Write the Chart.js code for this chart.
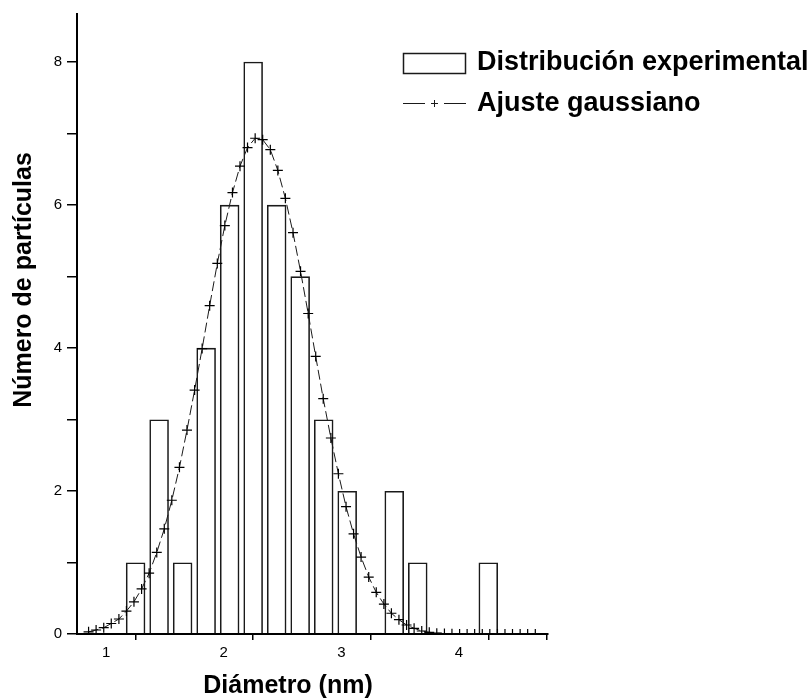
<!DOCTYPE html>
<html>
<head>
<meta charset="utf-8">
<script src="https://cdn.jsdelivr.net/npm/chart.js@4"></script>
<style>
  html, body { margin: 0; padding: 0; background: #fff; }
  canvas { display: block; }
</style>
</head>
<body>
<canvas id="histChart" width="812" height="698"></canvas>
<script>
// Histograma de diámetros (centros de clase, nm) y número de partículas
const diametros = [1.25, 1.45, 1.65, 1.85, 2.05, 2.25, 2.45, 2.65, 2.85, 3.05, 3.45, 3.65, 4.25];
const cuentas   = [1, 3, 1, 4, 6, 8, 6, 5, 3, 2, 2, 1, 1];

// Curva del ajuste gaussiano
const ajusteX = [0.850, 0.914, 0.979, 1.043, 1.108, 1.172, 1.236, 1.301, 1.365, 1.430,
                 1.494, 1.558, 1.623, 1.687, 1.752, 1.816, 1.880, 1.945, 2.009, 2.074,
                 2.138, 2.202, 2.267, 2.331, 2.396, 2.460, 2.524, 2.589, 2.653, 2.718,
                 2.782, 2.846, 2.911, 2.975, 3.040, 3.104, 3.168, 3.233, 3.297, 3.362,
                 3.426, 3.490, 3.555, 3.619, 3.684, 3.748, 3.812, 3.877, 3.941, 4.006,
                 4.070, 4.134, 4.199, 4.263, 4.328, 4.392, 4.456, 4.521, 4.585, 4.650];
const ajusteY = [0.03, 0.056, 0.088, 0.147, 0.21, 0.32, 0.45, 0.63, 0.85, 1.14,
                 1.47, 1.87, 2.33, 2.85, 3.41, 3.99, 4.59, 5.18, 5.71, 6.17,
                 6.54, 6.80, 6.93, 6.91, 6.77, 6.48, 6.09, 5.61, 5.07, 4.48,
                 3.88, 3.29, 2.74, 2.24, 1.78, 1.40, 1.075, 0.796, 0.582, 0.419,
                 0.29, 0.20, 0.126, 0.08, 0.042, 0.024, 0.012, 0.006, 0.003, 0.001,
                 0, 0, 0, 0, 0, 0, 0, 0, 0, 0];

const xTicks = [1, 1.5, 2, 2.5, 3, 3.5, 4, 4.5];
const yTicks = [0, 1, 2, 3, 4, 5, 6, 7, 8];

const FONT = '"Liberation Sans", Arial, sans-serif';
const INK = '#1a1a1a';

// leyenda y títulos de ejes
const textos = {
  id: 'textos',
  afterDraw(chart) {
    const ctx = chart.ctx;
    ctx.save();
    ctx.fillStyle = '#000';
    ctx.strokeStyle = INK;
    ctx.font = 'bold 25px ' + FONT;
    ctx.textAlign = 'center';
    ctx.textBaseline = 'alphabetic';
    ctx.fillText('Diámetro (nm)', 288, 693);

    ctx.save();
    ctx.translate(31, 280);
    ctx.rotate(-Math.PI / 2);
    ctx.fillText('Número de partículas', 0, 0);
    ctx.restore();

    // leyenda
    ctx.textAlign = 'left';
    ctx.font = 'bold 27px ' + FONT;
    ctx.lineWidth = 1.5;
    ctx.strokeRect(403.5, 53.5, 62, 20);
    ctx.fillText('Distribución experimental', 477, 70);

    ctx.lineWidth = 1;
    ctx.beginPath();
    ctx.moveTo(403, 103.5); ctx.lineTo(425, 103.5);
    ctx.moveTo(444, 103.5); ctx.lineTo(466, 103.5);
    ctx.moveTo(431, 103.5); ctx.lineTo(438, 103.5);
    ctx.moveTo(434.5, 100); ctx.lineTo(434.5, 107);
    ctx.stroke();
    ctx.fillText('Ajuste gaussiano', 477, 111);
    ctx.restore();
  }
};

new Chart(document.getElementById('histChart').getContext('2d'), {
  type: 'bar',
  data: {
    datasets: [{
      type: 'line',
      label: 'Ajuste gaussiano',
      data: ajusteX.map((x, i) => ({ x: x, y: ajusteY[i] })),
      borderColor: INK,
      borderWidth: 1,
      borderDash: [10, 4],
      tension: 0,
      fill: false,
      pointStyle: 'cross',
      pointRadius: 5,
      pointBorderWidth: 1.2,
      pointBorderColor: '#000',
      order: 0
    }, {
      label: 'Distribución experimental',
      data: diametros.map((x, i) => ({ x: x, y: cuentas[i] })),
      backgroundColor: 'rgba(255,255,255,0)',
      borderColor: INK,
      borderWidth: 1.6,
      borderSkipped: 'bottom',
      categoryPercentage: 1,
      barPercentage: 0.83,
      order: 1
    }]
  },
  options: {
    responsive: false,
    animation: false,
    layout: { padding: { top: 14, right: 264, left: 0, bottom: 0 } },
    plugins: {
      legend: { display: false },
      tooltip: { enabled: false }
    },
    scales: {
      x: {
        type: 'linear',
        min: 0.7515,
        max: 4.758,
        offset: false,
        afterBuildTicks(scale) { scale.ticks = xTicks.map(v => ({ value: v })); },
        afterFit(scale) { scale.height = 64; },
        border: { display: true, color: '#000', width: 2 },
        grid: {
          drawOnChartArea: false,
          drawTicks: true,
          tickLength: 6,
          lineWidth: 1.5,
          tickColor: c => (c.tick && Number.isInteger(c.tick.value)) ? 'rgba(0,0,0,0)' : '#000'
        },
        ticks: {
          color: '#000',
          padding: 4,
          maxRotation: 0,
          autoSkip: false,
          font: { family: FONT, size: 15 },
          callback: v => Number.isInteger(v) ? String(v) : ''
        }
      },
      y: {
        min: 0,
        max: 8.667,
        afterBuildTicks(scale) { scale.ticks = yTicks.map(v => ({ value: v })); },
        afterFit(scale) { scale.width = 77; },
        border: { display: true, color: '#000', width: 2 },
        grid: {
          drawOnChartArea: false,
          drawTicks: true,
          tickLength: 10,
          lineWidth: 1.5,
          tickColor: '#000'
        },
        ticks: {
          color: '#000',
          padding: 5,
          autoSkip: false,
          font: { family: FONT, size: 15 },
          callback: v => (v % 2 === 0) ? String(v) : ''
        }
      }
    }
  },
  plugins: [textos]
});
</script>
</body>
</html>
